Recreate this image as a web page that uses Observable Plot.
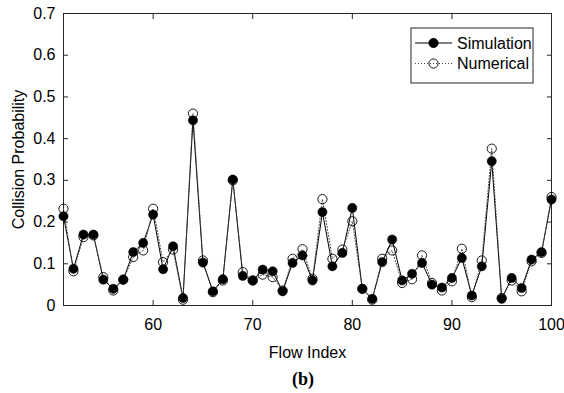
<!DOCTYPE html>
<html>
<head>
<meta charset="utf-8">
<script src="https://cdn.jsdelivr.net/npm/d3@7"></script>
<script src="https://cdn.jsdelivr.net/npm/@observablehq/plot@0.6"></script>
<style>
  html, body { margin: 0; padding: 0; background: #fff; }
  #chart { position: relative; width: 564px; }
  #cap { width: 564px; height: 28px; text-align: center; font-family: "Liberation Serif", "DejaVu Serif", serif; font-weight: bold; font-size: 18px; line-height: 28px; box-sizing: border-box; }
</style>
</head>
<body>
<div id="chart"></div>
<div id="cap"><span style="position:relative; left:21px">(b)</span></div>
<script>
const flowIndex = [51,52,53,54,55,56,57,58,59,60,61,62,63,64,65,66,67,68,69,70,
  71,72,73,74,75,76,77,78,79,80,81,82,83,84,85,86,87,88,89,90,
  91,92,93,94,95,96,97,98,99,100];
const simulation = [0.214,0.088,0.170,0.170,0.062,0.040,0.062,0.128,0.150,0.218,
  0.087,0.142,0.018,0.444,0.103,0.034,0.063,0.302,0.071,0.060,
  0.086,0.082,0.034,0.102,0.120,0.060,0.224,0.094,0.126,0.234,
  0.040,0.016,0.104,0.158,0.060,0.076,0.102,0.050,0.043,0.066,
  0.114,0.024,0.094,0.346,0.016,0.066,0.042,0.110,0.128,0.254];
const numerical = [0.232,0.082,0.164,0.168,0.068,0.036,0.062,0.116,0.132,0.232,
  0.104,0.134,0.014,0.460,0.108,0.032,0.060,0.300,0.080,0.060,
  0.074,0.068,0.036,0.112,0.135,0.064,0.255,0.112,0.134,0.202,
  0.040,0.014,0.112,0.132,0.054,0.063,0.120,0.054,0.036,0.058,
  0.136,0.020,0.108,0.376,0.018,0.060,0.034,0.106,0.126,0.260];
const xTicks = [60,70,80,90,100];
const yTicks = [0,0.1,0.2,0.3,0.4,0.5,0.6,0.7];
const seriesNames = ["Simulation","Numerical"];

const sim = flowIndex.map((x,i) => ({x, y: simulation[i]}));
const num = flowIndex.map((x,i) => ({x, y: numerical[i]}));

const W = 564, H = 365;
const tick = 5;
const FONT = "'Liberation Sans', Arial, sans-serif";
const plot = Plot.plot({
  width: W, height: H,
  marginLeft: 63, marginRight: 13, marginTop: 13, marginBottom: H - 305,
  style: {fontFamily: FONT, fontSize: "16px", color: "#000", background: "#fff"},
  x: {domain: [51,100]},
  y: {domain: [0,0.7]},
  marks: [
    Plot.frame({stroke: "#262626", strokeWidth: 1}),
    Plot.axisX({anchor: "bottom", ticks: xTicks, tickSize: 0, tickPadding: 13,
      label: "Flow Index", labelAnchor: "center", labelArrow: "none", labelOffset: 52}),
    Plot.axisX({anchor: "bottom", ticks: xTicks, tickSize: tick, dy: -tick, tickFormat: () => "", label: null, stroke: "#262626"}),
    Plot.axisX({anchor: "top", ticks: xTicks, tickSize: tick, dy: tick, tickFormat: () => "", label: null, stroke: "#262626"}),
    Plot.axisY({anchor: "left", ticks: yTicks, tickSize: 0, tickPadding: 8, tickFormat: d => String(d),
      label: "Collision Probability", labelAnchor: "center", labelArrow: "none", labelOffset: 51}),
    Plot.axisY({anchor: "left", ticks: yTicks, tickSize: tick, dx: tick, tickFormat: () => "", label: null, stroke: "#262626"}),
    Plot.axisY({anchor: "right", ticks: yTicks, tickSize: tick, dx: -tick, tickFormat: () => "", label: null, stroke: "#262626"}),
    Plot.line(sim, {x: "x", y: "y", stroke: "#000", strokeWidth: 1}),
    Plot.line(num, {x: "x", y: "y", stroke: "#444", strokeWidth: 1, strokeDasharray: "1,2"}),
    Plot.dot(sim, {x: "x", y: "y", r: 4.6, fill: "#000", stroke: "#000", strokeWidth: 0.5}),
    Plot.dot(num, {x: "x", y: "y", r: 4.6, fill: "none", stroke: "#000", strokeWidth: 0.9})
  ]
});
document.getElementById("chart").appendChild(plot);

// legend inside the plot area (top-right)
const svg = d3.select(plot);
const lg = svg.append("g").attr("transform", "translate(411,28)");
lg.append("rect").attr("width", 122).attr("height", 55).attr("fill", "#fff").attr("stroke", "#262626").attr("stroke-width", 1);
const rows = [
  {name: seriesNames[0], y: 15, dash: null, fill: "#000", stroke: "#000"},
  {name: seriesNames[1], y: 35.5, dash: "1,2", fill: "none", stroke: "#444"}
];
rows.forEach(r => {
  lg.append("line").attr("x1", 4).attr("x2", 41).attr("y1", r.y).attr("y2", r.y)
    .attr("stroke", r.stroke).attr("stroke-width", 1).attr("stroke-dasharray", r.dash);
  lg.append("circle").attr("cx", 22.5).attr("cy", r.y).attr("r", 4.6)
    .attr("fill", r.fill).attr("stroke", "#000").attr("stroke-width", 0.9);
  lg.append("text").attr("x", 46).attr("y", r.y).attr("dy", "0.35em")
    .attr("text-anchor", "start")
    .attr("font-family", FONT).attr("font-size", 16)
    .attr("fill", "#000").text(r.name);
});
</script>
</body>
</html>
